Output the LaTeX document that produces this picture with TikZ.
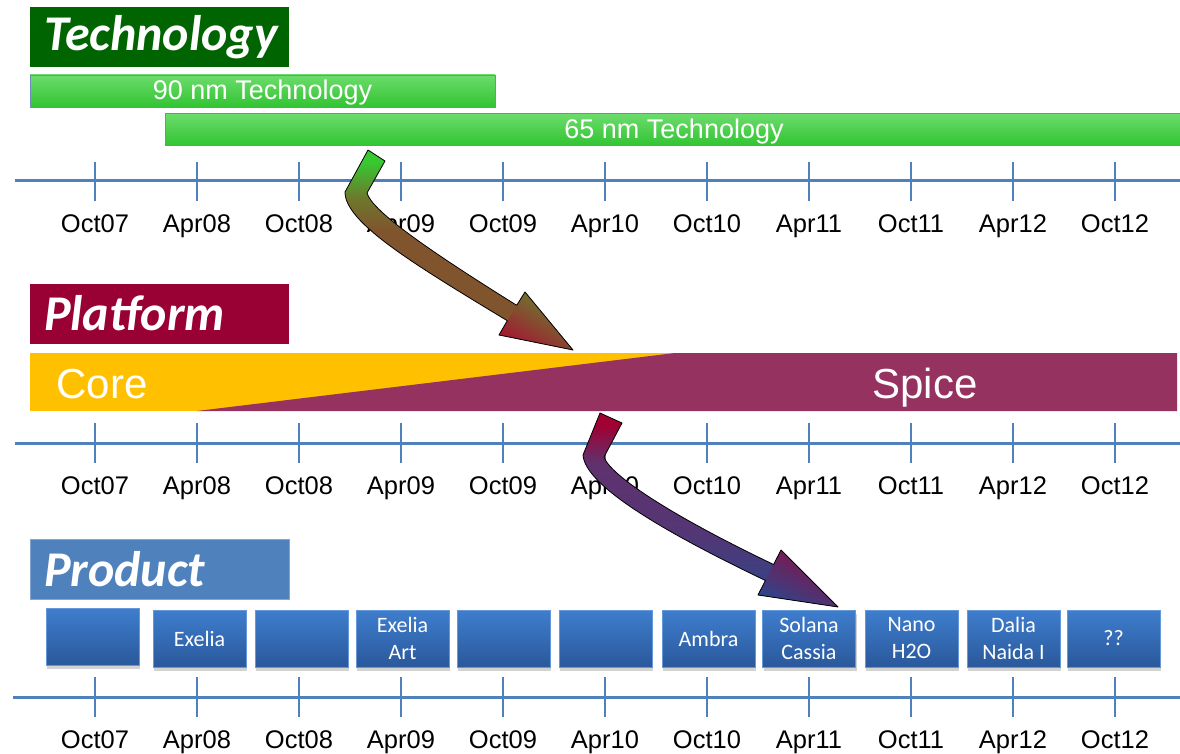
\documentclass[tikz,border=0pt]{standalone}
\usepackage{fontspec}
\setmainfont{Liberation Sans}
\newfontfamily\calibri{Carlito}
\usetikzlibrary{shadows}
\definecolor{axisblue}{RGB}{79,129,189}
\definecolor{techgreen}{RGB}{0,100,0}
\definecolor{platred}{RGB}{153,0,51}
\definecolor{prodblue}{RGB}{79,129,189}
\definecolor{coreorange}{RGB}{255,192,0}
\definecolor{spicepurple}{RGB}{150,50,96}
\definecolor{barlight}{RGB}{108,220,108}
\definecolor{bardark}{RGB}{50,196,50}
\definecolor{barborder}{RGB}{110,140,190}
\definecolor{boxtop}{RGB}{62,126,206}
\definecolor{boxbot}{RGB}{42,88,155}
\definecolor{agreen}{RGB}{55,200,50}
\definecolor{aolive}{RGB}{110,120,45}
\definecolor{abrown}{RGB}{128,85,45}
\definecolor{ared}{RGB}{165,20,50}
\definecolor{acrimson}{RGB}{160,0,50}
\definecolor{apurple}{RGB}{95,50,110}
\definecolor{ablue}{RGB}{45,70,140}
\pgfdeclareverticalshading{arrowAshade}{100bp}{color(0bp)=(abrown); color(25bp)=(abrown); color(55bp)=(abrown); color(63bp)=(aolive); color(72bp)=(agreen); color(100bp)=(agreen)}
\pgfdeclareverticalshading{arrowBshade}{100bp}{color(0bp)=(ablue); color(25bp)=(ablue); color(45bp)=(apurple!80!ablue); color(62bp)=(apurple); color(72bp)=(acrimson); color(100bp)=(acrimson)}
\tikzset{
  titlebox/.style={fill=#1, minimum width=259pt, minimum height=60pt, inner xsep=14pt, inner ysep=0pt,
    text width=231pt, align=left, text=white, font=\calibri\bfseries\itshape\fontsize{50}{50}\selectfont},
  greenbar/.style={top color=barlight, bottom color=bardark, draw=barborder, line width=0.8pt,
    minimum height=32pt, inner sep=0pt, text=white, font=\fontsize{27}{27}\selectfont,
    text height=22pt, text depth=4pt},
  axisline/.style={draw=axisblue, line width=3pt},
  tickline/.style={draw=axisblue, line width=2.2pt},
  datelbl/.style={font=\fontsize{25.5}{25.5}\selectfont, inner sep=0pt, anchor=base},
  prodbox/.style={top color=boxtop, bottom color=boxbot, draw=boxtop!80!white, line width=0.5pt,
    minimum width=93pt, minimum height=57pt, inner sep=0pt, text=white, align=center,
    font=\calibri\fontsize{22}{27}\selectfont,
    drop shadow={opacity=0.35, shadow xshift=1pt, shadow yshift=-4pt}},
  bigword/.style={text=white, font=\fontsize{42}{42}\selectfont, inner sep=0pt, anchor=base},
  arrowline/.style={draw=black, line width=0.8pt, line join=round}
}
\begin{document}
\begin{tikzpicture}[x=1pt,y=-1pt]
\useasboundingbox (0,0) rectangle (1180,754);
\fill[white] (0,0) rectangle (1180,754);

% ---------- Technology ----------
\node[titlebox=techgreen] (techtitle) at (159.5,37.5) {Technology};
\node[greenbar, minimum width=465pt] (t90) at (262.5,91) {90 nm Technology};
\node[greenbar, minimum width=1018pt] (t65) at (674,129.5) {65 nm Technology};

\coordinate (a1l) at (15,181);
\coordinate (a1r) at (1180,181);
\draw[axisline] (a1l) -- (a1r);
\foreach \lbl [count=\i from 0] in {Oct07,Apr08,Oct08,Apr09,Oct09,Apr10,Oct10,Apr11,Oct11,Apr12,Oct12}{
  \pgfmathsetmacro{\xx}{95+102*\i}
  \coordinate (t1a\i) at (\xx,162);
  \coordinate (t1b\i) at (\xx,201);
  \draw[tickline] (t1a\i) -- (t1b\i);
  \node[datelbl] (d1-\i) at (\xx,233) {\lbl};
}

% ---------- Platform ----------
\node[titlebox=platred] (plattitle) at (159.5,313.5) {Platform};
\node[fill=coreorange, minimum width=1147pt, minimum height=58pt, inner sep=0pt] (corebar) at (603.5,382) {};
\fill[spicepurple] (197,411) -- (675,353) -- (1177,353) -- (1177,411) -- cycle;
\node[bigword] (core) at (102,398) {Core};
\node[bigword] (spice) at (925,398) {Spice};

\coordinate (a2l) at (15,443);
\coordinate (a2r) at (1180,443);
\draw[axisline] (a2l) -- (a2r);
\foreach \lbl [count=\i from 0] in {Oct07,Apr08,Oct08,Apr09,Oct09,Apr10,Oct10,Apr11,Oct11,Apr12,Oct12}{
  \pgfmathsetmacro{\xx}{95+102*\i}
  \coordinate (t2a\i) at (\xx,423);
  \coordinate (t2b\i) at (\xx,463);
  \draw[tickline] (t2a\i) -- (t2b\i);
  \node[datelbl] (d2-\i) at (\xx,494) {\lbl};
}

% ---------- Product ----------
\node[titlebox=prodblue, draw=prodblue!70!white, line width=0.8pt] (prodtitle) at (159.5,569) {Product};

\node[prodbox] (p0) at (92.5,636.5) {};
\node[prodbox] (p1) at (199.5,638.5) {Exelia};
\node[prodbox] (p2) at (301.5,638.5) {};
\node[prodbox] (p3) at (402.5,638.5) {Exelia\\Art};
\node[prodbox] (p4) at (503.5,638.5) {};
\node[prodbox] (p5) at (605.5,638.5) {};
\node[prodbox] (p6) at (708.5,638.5) {Ambra};
\node[prodbox] (p7) at (809,638.5) {Solana\\Cassia};
\node[prodbox] (p8) at (911.5,638.5) {Nano\\H2O};
\node[prodbox] (p9) at (1013.5,638.5) {Dalia\\Naida I};
\node[prodbox] (p10) at (1113.5,638.5) {??};

\coordinate (a3l) at (13,697);
\coordinate (a3r) at (1180,697);
\draw[axisline] (a3l) -- (a3r);
\foreach \lbl [count=\i from 0] in {Oct07,Apr08,Oct08,Apr09,Oct09,Apr10,Oct10,Apr11,Oct11,Apr12,Oct12}{
  \pgfmathsetmacro{\xx}{95+102*\i}
  \coordinate (t3a\i) at (\xx,677);
  \coordinate (t3b\i) at (\xx,717);
  \draw[tickline] (t3a\i) -- (t3b\i);
  \node[datelbl] (d3-\i) at (\xx,748) {\lbl};
}

% ---------- Arrow 1 (Technology -> Platform) ----------
\shade[shading=arrowAshade]
  (368,150) -- (385,161) -- (367,193) .. controls (372,210) and (420,245) .. (516.7,305.3)
  -- (525,292) -- (573,350) -- (499,335) -- (507.3,320.7)
  .. controls (410,262) and (345,222) .. (345,192) -- cycle;
\shade[top color=aolive!80!agreen, bottom color=ared, shading angle=-31]
  (525,292) -- (573,350) -- (499,335) -- cycle;
\draw[arrowline]
  (368,150) -- (385,161) -- (367,193) .. controls (372,210) and (420,245) .. (516.7,305.3)
  -- (525,292) -- (573,350) -- (499,335) -- (507.3,320.7)
  .. controls (410,262) and (345,222) .. (345,192) -- cycle;

% ---------- Arrow 2 (Platform -> Product) ----------
\shade[shading=arrowBshade]
  (600,413) -- (622,423) -- (604,457) .. controls (610,475) and (670,515) .. (773.6,564.5)
  -- (781,550) -- (838,607) -- (758,595) -- (765.4,580.5)
  .. controls (660,530) and (585,485) .. (583,455) -- cycle;
\shade[top color=acrimson!70!apurple, bottom color=ablue, shading angle=-27]
  (781,550) -- (838,607) -- (758,595) -- cycle;
\draw[arrowline]
  (600,413) -- (622,423) -- (604,457) .. controls (610,475) and (670,515) .. (773.6,564.5)
  -- (781,550) -- (838,607) -- (758,595) -- (765.4,580.5)
  .. controls (660,530) and (585,485) .. (583,455) -- cycle;
\end{tikzpicture}
\end{document}
